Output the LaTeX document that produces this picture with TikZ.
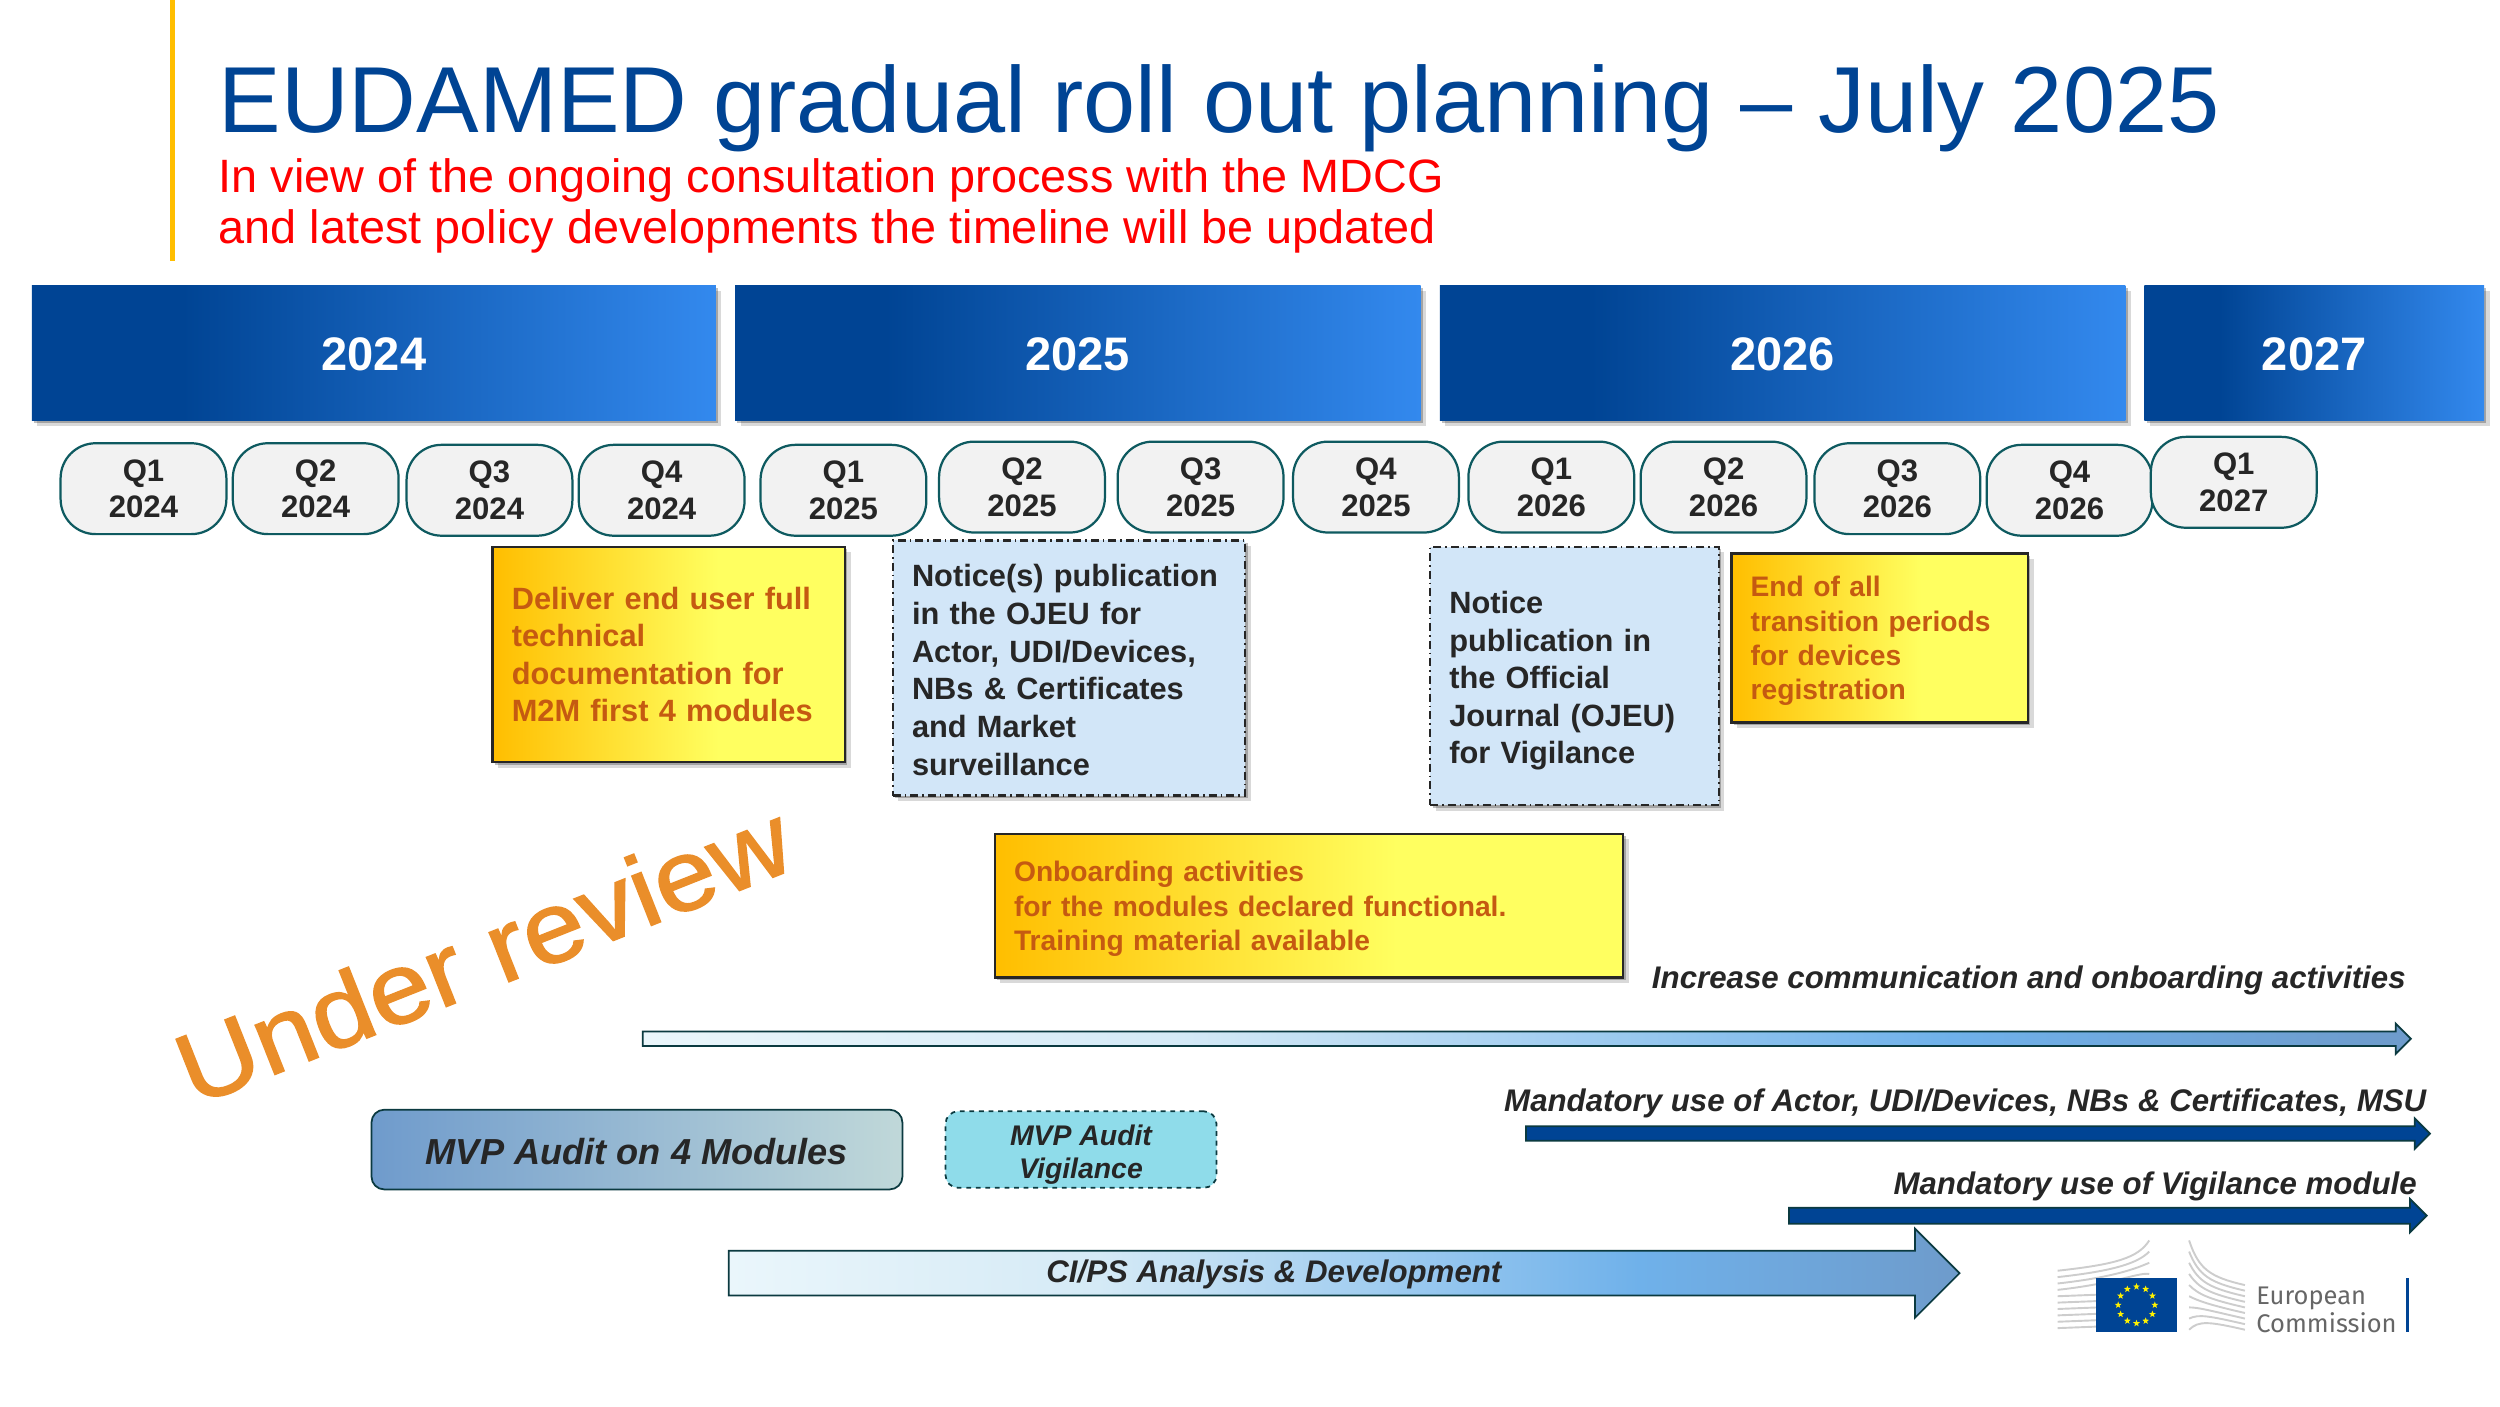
\documentclass[tikz,border=0pt]{standalone}
\usepackage{fontspec}
\setmainfont{Liberation Sans}
\newfontfamily\logofont{Fira Sans}
\usetikzlibrary{shapes.geometric,shapes.arrows,shadows}

\definecolor{eublue}{HTML}{004494}
\definecolor{barlight}{HTML}{3389EE}
\definecolor{inkdark}{HTML}{262626}
\definecolor{tealline}{HTML}{0E5A60}
\definecolor{arrowline}{HTML}{0B3A40}
\definecolor{burnt}{HTML}{C55A11}
\definecolor{notefill}{HTML}{D2E6F8}
\definecolor{audita}{HTML}{6F9BCC}
\definecolor{auditb}{HTML}{C0D8D9}
\definecolor{vigifill}{HTML}{8FDCEA}
\definecolor{logogrey}{HTML}{CDCDCD}
\definecolor{warma}{HTML}{FFBE00}
\definecolor{warmb}{HTML}{FFFF60}
\definecolor{palearrow}{HTML}{EAF6FB}
\definecolor{softarrow}{HTML}{D5EAF6}
\definecolor{midarrow}{HTML}{6FB1EA}
\definecolor{endarrow}{HTML}{6E9BCB}
\definecolor{stamp}{HTML}{EA8E2A}

\pgfdeclarehorizontalshading{barshade}{100bp}{color(0bp)=(eublue); color(36bp)=(eublue); color(75bp)=(barlight); color(100bp)=(barlight)}
\pgfdeclarehorizontalshading{warmshade}{100bp}{color(0bp)=(warma); color(25bp)=(warma); color(57bp)=(warmb); color(100bp)=(warmb)}
\pgfdeclarehorizontalshading{arrowshade}{100bp}{color(0bp)=(palearrow); color(25bp)=(palearrow); color(40bp)=(softarrow); color(62bp)=(midarrow); color(75bp)=(endarrow); color(100bp)=(endarrow)}
\pgfdeclarehorizontalshading{auditshade}{100bp}{color(0bp)=(audita); color(25bp)=(audita); color(75bp)=(auditb); color(100bp)=(auditb)}

\begin{document}
\begin{tikzpicture}[x=1pt,y=-1pt,
  softshadow/.style={drop shadow={shadow xshift=3.5pt,shadow yshift=-3.5pt,opacity=.15,fill=black},
    drop shadow={shadow xshift=1.5pt,shadow yshift=-1.5pt,opacity=.25,fill=black}},
  year node/.style={anchor=north west,outer sep=0,inner sep=0,minimum height=85,softshadow,
    shading=barshade,text=white,text height=22.6pt,font=\fontsize{29.5}{34}\selectfont\bfseries},
  quarter node/.style={draw=tealline,fill=black!5,line width=1.4pt,rounded corners=22,
    anchor=north west,outer sep=0,inner sep=0,minimum width=104,minimum height=57,align=center,
    text=inkdark,font=\fontsize{19.5}{23}\selectfont\bfseries,execute at begin node=\rule{0pt}{16.3pt}},
  warm node/.style={draw=inkdark,line width=1.6pt,shading=warmshade,softshadow,anchor=north west,
    outer sep=0,inner xsep=12,inner ysep=0,align=left,text=burnt,font=\bfseries},
  note node/.style={draw=inkdark,line width=1.4pt,dash pattern=on 5pt off 2.5pt on 1pt off 2.5pt,
    fill=notefill,softshadow,anchor=north west,outer sep=0,inner xsep=12,inner ysep=0,
    align=left,text=inkdark,font=\fontsize{19.3}{23.6}\selectfont\bfseries},
  long arrow/.style={single arrow,draw=arrowline,line width=1.1pt,anchor=west,inner xsep=0,outer sep=0},
  arrow text/.style={inner sep=0,text=inkdark,font=\fontsize{19.6}{24}\selectfont\bfseries\itshape}]

  \useasboundingbox (0,0) rectangle (1568,882);

  % header
  \fill[warma] (106.5,0) rectangle (110,164);
  \node[anchor=base west,inner sep=0,text=eublue,font=\fontsize{58.8}{64}\selectfont] (title) at (137,83)
    {EUDAMED gradual roll out planning – July 2025};
  \node[anchor=north west,inner sep=0,align=left,text=red,font=\fontsize{29.35}{32}\selectfont] (subtitle) at (137,99)
    {In view of the ongoing consultation process with the MDCG\\and latest policy developments the timeline will be updated};

  % years
  \node[year node,minimum width=429] (y24) at (20,179) {2024};
  \node[year node,minimum width=430] (y25) at (461,179) {2025};
  \node[year node,minimum width=430] (y26) at (903,179) {2026};
  \node[year node,minimum width=213] (y27) at (1345,179) {2027};

  % quarters
  \node[quarter node] (q124) at (38,278) {Q1\\2024};
  \node[quarter node] (q224) at (146,278) {Q2\\2024};
  \node[quarter node] (q324) at (255,279) {Q3\\2024};
  \node[quarter node] (q424) at (363,279) {Q4\\2024};
  \node[quarter node] (q125) at (477,279) {Q1\\2025};
  \node[quarter node] (q225) at (589,277) {Q2\\2025};
  \node[quarter node] (q325) at (701,277) {Q3\\2025};
  \node[quarter node] (q425) at (811,277) {Q4\\2025};
  \node[quarter node] (q126) at (921,277) {Q1\\2026};
  \node[quarter node] (q226) at (1029,277) {Q2\\2026};
  \node[quarter node] (q326) at (1138,278) {Q3\\2026};
  \node[quarter node] (q426) at (1246,279) {Q4\\2026};
  \node[quarter node] (q127) at (1349,274) {Q1\\2027};

  % milestones
  \node[warm node,text width=197,minimum height=135,font=\fontsize{19.3}{23.6}\selectfont\bfseries] (deliver) at (309,343)
    {Deliver end user full\\technical\\documentation for\\M2M first 4 modules};
  \node[note node,text width=197,minimum height=160] (ojeu) at (560,339)
    {\rule{0pt}{16.5pt}Notice(s) publication\\in the OJEU for\\Actor, UDI/Devices,\\NBs \& Certificates\\and Market\\surveillance};
  \node[note node,text width=157,minimum height=162] (vigi) at (897,343)
    {\rule{0pt}{20pt}Notice\\publication in\\the Official\\Journal (OJEU)\\for Vigilance};
  \node[warm node,text width=162,minimum height=106,font=\fontsize{17.7}{21.6}\selectfont\bfseries] (endtrans) at (1086,347)
    {\rule{0pt}{17pt}End of all\\transition periods\\for devices\\registration};
  \node[warm node,text width=370,minimum height=90,font=\fontsize{17.7}{21.6}\selectfont\bfseries] (onboard) at (624,523)
    {\rule{0pt}{17pt}Onboarding activities\\for the modules declared functional.\\Training material available};

  \node[rotate=21.6,inner sep=0,text=stamp,font=\fontsize{63}{70}\selectfont\addfontfeature{FakeBold=1.5}] (review) at (303,598) {\scalebox{1.1}[1]{Under review}};

  % long arrows
  \node[arrow text,anchor=base east] (comm) at (1509,620) {Increase communication and onboarding activities};
  \node[long arrow,shading=arrowshade,minimum height=1109,inner ysep=4,single arrow head extend=5] (commarrow) at (403,651.5) {};

  \node[arrow text,anchor=base east] (mand) at (1522,697) {Mandatory use of Actor, UDI/Devices, NBs \& Certificates, MSU};
  \node[long arrow,fill=eublue,minimum height=567,inner ysep=4,single arrow head extend=5] (mandarrow) at (957,711) {};

  \node[arrow text,anchor=base east] (mandvig) at (1516,749) {Mandatory use of Vigilance module};
  \node[long arrow,fill=eublue,minimum height=400,inner ysep=4.5,single arrow head extend=5.5] (mandvigarrow) at (1122,762.5) {};

  % audits
  \node[draw=arrowline,line width=1.1pt,rounded corners=8,shading=auditshade,anchor=north west,outer sep=0,inner sep=0,
    minimum width=333,minimum height=50,text=inkdark,font=\fontsize{22.7}{28}\selectfont\bfseries\itshape] (audit) at (233,696) {\rule{0pt}{18.5pt}MVP Audit on 4 Modules};
  \node[draw=arrowline,line width=1.1pt,dashed,rounded corners=8,fill=vigifill,anchor=north west,outer sep=0,inner sep=0,
    minimum width=170,minimum height=48,align=center,text=inkdark,font=\fontsize{17.8}{21}\selectfont\bfseries\itshape] (auditvig) at (593,697) {\rule{0pt}{19pt}MVP Audit\\Vigilance};

  \node[long arrow,shading=arrowshade,minimum height=772,inner ysep=13.5,single arrow head extend=14] (cips) at (457,798.5) {};
  \node[arrow text] (cipstext) at (799,799.5) {CI/PS Analysis \& Development};

  % logo
  \foreach \i in {0,1,2,3}
    \draw[logogrey,line width=1.2pt] (1290.5,{797+4*\i}) .. controls (1327,{793+4*\i}) and (1341,{789+3*\i}) .. (1348,{778+7*\i});
  \foreach \i in {4,...,9}
    \draw[logogrey,line width=1.2pt] (1290.5,{797+4*\i}) -- (1316,{796+4*\i});
  \foreach \i in {0,...,8}
    \draw[logogrey,line width=1.2pt] (1373,{778+7*\i}) .. controls (1379,{796+4*\i}) and (1386,{801+3.5*\i}) .. (1408,{806+3.5*\i});
  \node[fill=eublue,anchor=north west,inner sep=0,outer sep=0,minimum width=50.8,minimum height=34] (flag) at (1314.6,801.5) {};
  \foreach \a in {0,30,...,330}
    \node[star,star points=5,star point ratio=2.4,fill=yellow,inner sep=0,minimum size=4.5] (star\a) at ([shift={(\a:11.5pt)}]flag.center) {};
  \node[anchor=base west,inner sep=0,text=black!60,font=\logofont\fontsize{16}{16}\selectfont] (logoa) at (1415,818) {European};
  \node[anchor=base west,inner sep=0,text=black!60,font=\logofont\fontsize{16}{16}\selectfont] (logob) at (1415,835.5) {Commission};
  \fill[eublue] (1509,801.5) rectangle (1511,835.5);
\end{tikzpicture}
\end{document}
